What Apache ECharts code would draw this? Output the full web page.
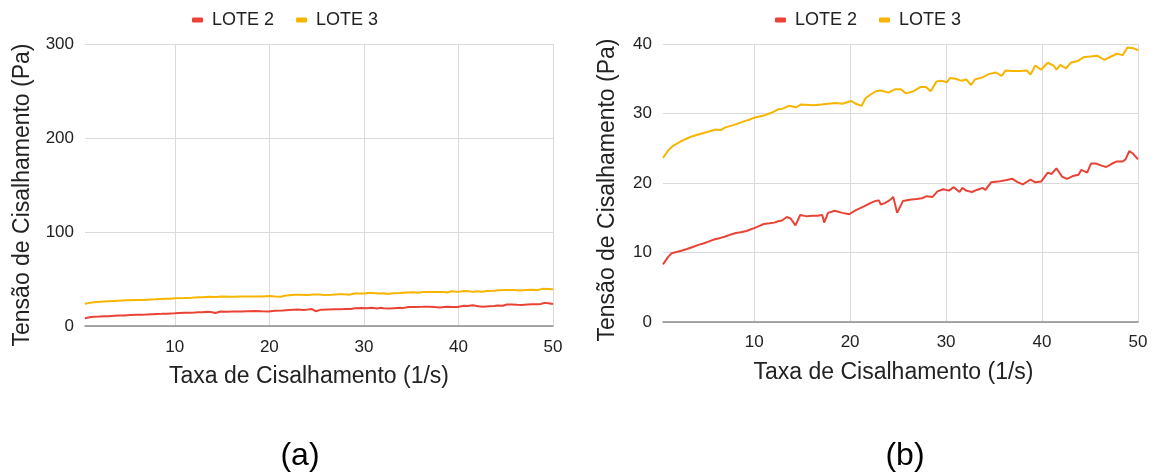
<!DOCTYPE html>
<html>
<head>
<meta charset="utf-8">
<script src="https://cdn.jsdelivr.net/npm/echarts@6/dist/echarts.min.js"></script>
<style>
  html, body { margin: 0; padding: 0; background: #fff; }
  #chart { width: 1158px; height: 472px; }
</style>
</head>
<body>
<div id="chart"></div>
<script>
// ---- Data ----
const seriesNames = ['LOTE 2', 'LOTE 3'];
const panelLabels = ['(a)', '(b)'];
const xAxisTitle = 'Taxa de Cisalhamento (1/s)';
const yAxisTitle = 'Tensão de Cisalhamento (Pa)';

const shearLote2 = [0.5, 1.0, 1.4, 2.0, 2.5, 3.0, 3.6, 4.2, 4.7, 5.3,
  5.9, 6.5, 7.0, 7.6, 8.1, 8.6, 9.2, 9.6, 10.0, 10.5,
  11.0, 11.6, 12.1, 12.5, 12.9, 13.4, 13.8, 14.3, 14.8, 15.5,
  16.1, 16.6, 17.1, 17.3, 17.7, 18.4, 19.2, 19.9, 20.6, 21.4,
  22.1, 22.6, 23.0, 23.2, 23.6, 24.1, 24.5, 24.9, 25.5, 26.2,
  26.9, 27.5, 28.0, 28.6, 29.1, 29.7, 30.3, 30.8, 31.4, 31.7,
  32.1, 32.7, 33.2, 33.8, 34.1, 34.7, 35.4, 36.2, 36.9, 37.5,
  38.0, 38.8, 39.3, 39.9, 40.6, 41.0, 41.5, 42.1, 42.6, 43.2,
  43.8, 44.1, 44.7, 45.1, 45.6, 46.2, 46.7, 47.3, 47.8, 48.4,
  48.7, 49.1, 49.5, 50.0];
const stressLote2 = [8.3, 9.3, 9.9, 10.1, 10.3, 10.5, 10.8, 11.1, 11.3, 11.6,
  11.9, 12.1, 12.3, 12.6, 12.8, 12.9, 13.1, 13.3, 13.5, 13.8,
  14.1, 14.2, 14.3, 14.5, 14.6, 15.1, 14.9, 13.9, 15.4, 15.2,
  15.3, 15.3, 15.4, 14.3, 15.7, 16.0, 15.7, 15.5, 16.1, 16.6,
  17.1, 17.4, 17.5, 16.9, 17.1, 17.5, 18.0, 15.7, 17.4, 17.6,
  17.7, 17.8, 18.1, 18.0, 18.8, 19.1, 18.9, 19.4, 18.7, 19.3,
  18.9, 18.7, 19.0, 19.3, 19.0, 20.1, 20.2, 20.4, 20.6, 20.1,
  19.8, 20.5, 20.1, 20.2, 21.5, 21.3, 22.1, 20.9, 20.6, 21.0,
  21.2, 21.9, 21.5, 22.8, 22.8, 22.5, 22.3, 22.8, 23.1, 23.1,
  23.4, 24.6, 24.2, 23.4];

const shearLote3 = [0.5, 1.0, 1.5, 2.0, 2.5, 3.0, 3.5, 4.0, 5.0, 6.0,
  6.5, 7.0, 8.0, 9.0, 9.5, 10.0, 11.0, 11.8, 12.5, 13.0,
  13.6, 14.4, 14.9, 16.2, 17.0, 17.7, 18.5, 19.2, 20.1, 20.6,
  21.2, 21.6, 22.1, 22.7, 23.2, 24.0, 24.7, 25.3, 25.8, 26.6,
  27.3, 27.9, 28.4, 29.0, 29.5, 30.1, 30.4, 31.0, 31.6, 32.1,
  32.6, 33.0, 33.8, 34.5, 35.2, 35.8, 36.2, 36.9, 37.7, 38.4,
  38.8, 39.3, 39.9, 40.6, 41.2, 41.5, 41.9, 42.5, 43.0, 43.8,
  44.3, 45.0, 45.8, 46.5, 47.2, 47.8, 48.4, 48.9, 49.5, 50.0];
const stressLote3 = [23.6, 24.6, 25.3, 25.7, 26.1, 26.4, 26.7, 26.9, 27.3, 27.7,
  27.6, 28.0, 28.4, 28.9, 29.1, 29.4, 29.7, 30.1, 30.6, 30.7,
  31.1, 30.9, 31.3, 31.2, 31.3, 31.4, 31.5, 31.4, 31.8, 31.4,
  31.1, 32.2, 32.7, 33.2, 33.3, 33.0, 33.5, 33.5, 32.9, 33.2,
  33.8, 33.8, 33.2, 34.6, 34.7, 34.5, 35.1, 35.0, 34.7, 34.9,
  34.1, 34.9, 35.2, 35.7, 35.9, 35.4, 36.2, 36.1, 36.1, 36.2,
  35.6, 36.9, 36.3, 37.3, 36.9, 36.3, 37.0, 36.5, 37.3, 37.6,
  38.1, 38.2, 38.3, 37.7, 38.2, 38.6, 38.4, 39.5, 39.4, 39.1];

const xMin = 0.5, xMax = 50;
const yMaxA = 300, yIntervalA = 100;
const yMaxB = 40, yIntervalB = 10;

// ---- Styles ----
const FONT = 'Liberation Sans, Arial, sans-serif';
const RED = '#ea4335';
const YELLOW = '#f7b500';
const GRID_COLOR = '#dadada';
const TEXT = '#222';

const pairs = (xs, ys) => xs.map((x, i) => [x, ys[i]]);

function xAxisFor(gridIndex, labelMargin, titlePad) {
  return {
    type: 'value', gridIndex, min: xMin, max: xMax,
    name: xAxisTitle, nameLocation: 'middle', nameGap: 39,
    nameTextStyle: { fontFamily: FONT, fontSize: 23, color: TEXT, padding: [0, titlePad, 0, 0] },
    axisLine: { show: true, onZero: false, lineStyle: { color: '#8c8c8c', width: 1.5 } },
    axisTick: { show: false },
    axisLabel: {
      fontFamily: FONT, fontSize: 17, color: TEXT, margin: labelMargin,
      showMinLabel: false,
      formatter: v => (Math.abs(v % 10) < 1e-9 ? String(v) : '')
    },
    splitLine: { show: true, showMinLine: false, lineStyle: { color: GRID_COLOR, width: 1 } }
  };
}
function yAxisFor(gridIndex, max, interval, gap, pad) {
  return {
    type: 'value', gridIndex, min: 0, max, interval,
    name: yAxisTitle, nameLocation: 'middle', nameGap: gap,
    nameTextStyle: { fontFamily: FONT, fontSize: 23, color: TEXT, padding: [0, pad, 0, 0] },
    axisLine: { show: false }, axisTick: { show: false },
    axisLabel: { fontFamily: FONT, fontSize: 17, color: TEXT, margin: 11 },
    splitLine: { show: true, lineStyle: { color: GRID_COLOR, width: 1 } }
  };
}
function lineSeries(name, data, color, idx) {
  return {
    name, type: 'line', xAxisIndex: idx, yAxisIndex: idx, data,
    showSymbol: false, symbol: 'none', smooth: false,
    lineStyle: { color, width: 2 }, itemStyle: { color },
    emphasis: { disabled: true }, animation: false
  };
}
function legendFor(left) {
  return {
    data: seriesNames, left, top: 11, padding: 0, icon: 'roundRect',
    itemWidth: 11, itemHeight: 5, itemGap: 22,
    textStyle: { fontFamily: FONT, fontSize: 18, color: TEXT, padding: [0, 0, 0, 4] }
  };
}

const chart = echarts.init(document.getElementById('chart'), null, { renderer: 'canvas' });
chart.setOption({
  animation: false,
  backgroundColor: '#ffffff',
  legend: [legendFor(192), legendFor(775)],
  grid: [
    { left: 85, top: 44, width: 468, height: 282 },
    { left: 663, top: 44, width: 475, height: 278 }
  ],
  xAxis: [xAxisFor(0, 13, 20), xAxisFor(1, 12, 14)],
  yAxis: [yAxisFor(0, yMaxA, yIntervalA, 51, 20), yAxisFor(1, yMaxB, yIntervalB, 44, 14)],
  series: [
    lineSeries(seriesNames[0], pairs(shearLote2, stressLote2), RED, 0),
    lineSeries(seriesNames[1], pairs(shearLote3, stressLote3), YELLOW, 0),
    lineSeries(seriesNames[0], pairs(shearLote2, stressLote2), RED, 1),
    lineSeries(seriesNames[1], pairs(shearLote3, stressLote3), YELLOW, 1)
  ],
  graphic: [
    { type: 'text', x: 300, y: 456, style: { text: panelLabels[0], font: '32px ' + FONT, fill: '#000', align: 'center', verticalAlign: 'middle' } },
    { type: 'text', x: 905, y: 456, style: { text: panelLabels[1], font: '32px ' + FONT, fill: '#000', align: 'center', verticalAlign: 'middle' } }
  ]
});
</script>
</body>
</html>
